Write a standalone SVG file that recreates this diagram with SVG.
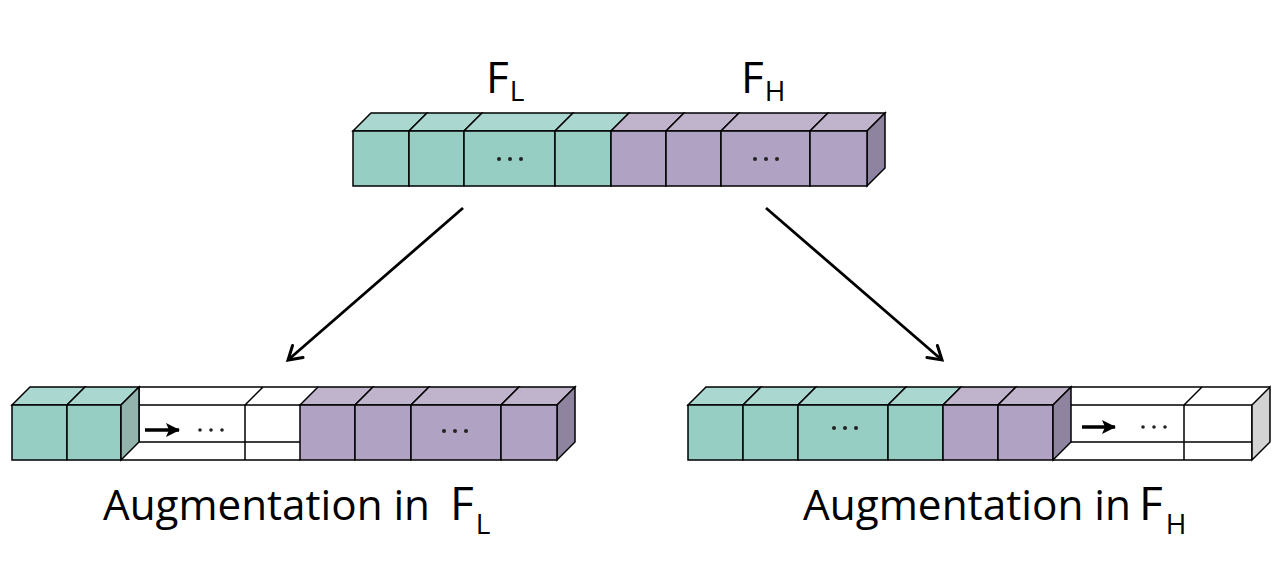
<svg xmlns="http://www.w3.org/2000/svg" width="1280" height="569" viewBox="0 0 1280 569">
<style>
.e{stroke:#000;stroke-width:1.5;stroke-linejoin:miter}
.tf{fill:#96cec4}.tt{fill:#aad8d0}.ts{fill:#93b3ad}
.pf{fill:#b0a2c3}.pt{fill:#bfb4cc}.ps{fill:#8e84a0}
.w{fill:#fff}.gs{fill:#d3d3d3}
.ln{fill:none;stroke:#000;stroke-width:1.5}
.dot{fill:#222}
.lbl{font-family:"Open Sans","DejaVu Sans",sans-serif;fill:#000}
.conn{fill:none;stroke:#000;stroke-width:2.8}
</style>
<defs>
<marker id="open" markerWidth="20" markerHeight="20" refX="15" refY="10" orient="auto" markerUnits="userSpaceOnUse">
<path d="M2,2 L15,10 L2,18" fill="none" stroke="#000" stroke-width="3" stroke-linecap="round"/>
</marker>
<marker id="solid" markerWidth="16" markerHeight="16" refX="14" refY="8" orient="auto" markerUnits="userSpaceOnUse">
<path d="M1,1 L15,8 L1,15 L4,8 Z" fill="#000"/>
</marker>
</defs>

<g id="labels-top">
<text class="lbl" x="486" y="93" font-size="44">F<tspan font-size="28" dx="1" dy="8">L</tspan></text>
<text class="lbl" x="741" y="93" font-size="44">F<tspan font-size="28" dx="1" dy="8">H</tspan></text>
</g>

<g id="top-bar">
<polygon class="e tt" points="353,131 371,113 427,113 409,131"/>
<polygon class="e tt" points="409,131 427,113 482,113 464,131"/>
<polygon class="e tt" points="464,131 482,113 573,113 555,131"/>
<polygon class="e tt" points="555,131 573,113 629,113 611,131"/>
<polygon class="e pt" points="611,131 629,113 684,113 666,131"/>
<polygon class="e pt" points="666,131 684,113 739,113 721,131"/>
<polygon class="e pt" points="721,131 739,113 828,113 810,131"/>
<polygon class="e pt" points="810,131 828,113 885,113 867,131"/>
<polygon class="e ps" points="867,131 885,113 885,168 867,186"/>
<rect class="e tf" x="353" y="131" width="56" height="55"/>
<rect class="e tf" x="409" y="131" width="55" height="55"/>
<rect class="e tf" x="464" y="131" width="91" height="55"/>
<rect class="e tf" x="555" y="131" width="56" height="55"/>
<rect class="e pf" x="611" y="131" width="55" height="55"/>
<rect class="e pf" x="666" y="131" width="55" height="55"/>
<rect class="e pf" x="721" y="131" width="89" height="55"/>
<rect class="e pf" x="810" y="131" width="57" height="55"/>
<circle class="dot" cx="499" cy="159" r="2"/><circle class="dot" cx="510" cy="159" r="2"/><circle class="dot" cx="521" cy="159" r="2"/>
<circle class="dot" cx="755" cy="159" r="2"/><circle class="dot" cx="766" cy="159" r="2"/><circle class="dot" cx="777" cy="159" r="2"/>
</g>

<g id="connectors">
<line class="conn" x1="463" y1="208" x2="288" y2="360" marker-end="url(#open)"/>
<line class="conn" x1="766" y1="208" x2="942" y2="360" marker-end="url(#open)"/>
</g>

<g id="bar-left">
<polygon class="e tt" points="12,405 30,387 85,387 67,405"/>
<polygon class="e tt" points="67,405 85,387 139,387 121,405"/>
<rect class="e tf" x="12" y="405" width="55" height="55"/>
<rect class="e tf" x="67" y="405" width="54" height="55"/>
<rect class="w" x="139" y="387" width="161" height="73"/>
<path class="ln" d="M139,387 H318 M139,405 H300 M139,442 H300 M121,460 H300 M245,405 V460 M245,405 L263,387 M139,387 V442"/>
<polygon class="e ts" points="121,405 139,387 139,442 121,460"/>
<polygon class="e pt" points="300,405 318,387 373,387 355,405"/>
<polygon class="e pt" points="355,405 373,387 429,387 411,405"/>
<polygon class="e pt" points="411,405 429,387 519,387 501,405"/>
<polygon class="e pt" points="501,405 519,387 575,387 557,405"/>
<polygon class="e ps" points="557,405 575,387 575,442 557,460"/>
<rect class="e pf" x="300" y="405" width="55" height="55"/>
<rect class="e pf" x="355" y="405" width="56" height="55"/>
<rect class="e pf" x="411" y="405" width="90" height="55"/>
<rect class="e pf" x="501" y="405" width="56" height="55"/>
<line x1="145" y1="430" x2="179" y2="430" stroke="#000" stroke-width="3.5" marker-end="url(#solid)"/>
<circle class="dot" cx="200" cy="430" r="1.8"/><circle class="dot" cx="211" cy="430" r="1.8"/><circle class="dot" cx="222" cy="430" r="1.8"/>
<circle class="dot" cx="444" cy="431" r="2"/><circle class="dot" cx="455" cy="431" r="2"/><circle class="dot" cx="466" cy="431" r="2"/>
</g>

<g id="bar-right">
<polygon class="e tt" points="688,405 706,387 761,387 743,405"/>
<polygon class="e tt" points="743,405 761,387 816,387 798,405"/>
<polygon class="e tt" points="798,405 816,387 906,387 888,405"/>
<polygon class="e tt" points="888,405 906,387 961,387 943,405"/>
<polygon class="e pt" points="943,405 961,387 1016,387 998,405"/>
<polygon class="e pt" points="998,405 1016,387 1071,387 1053,405"/>
<rect class="e tf" x="688" y="405" width="55" height="55"/>
<rect class="e tf" x="743" y="405" width="55" height="55"/>
<rect class="e tf" x="798" y="405" width="90" height="55"/>
<rect class="e tf" x="888" y="405" width="55" height="55"/>
<rect class="e pf" x="943" y="405" width="55" height="55"/>
<rect class="e pf" x="998" y="405" width="55" height="55"/>
<path class="ln" d="M1071,387 H1270 M1071,405 H1252 M1071,442 H1252 M1053,460 H1252 M1184,405 V460 M1184,405 L1202,387 M1252,405 V460"/>
<polygon class="e ps" points="1053,405 1071,387 1071,442 1053,460"/>
<polygon class="e gs" points="1252,405 1270,387 1270,442 1252,460"/>
<line x1="1082" y1="427" x2="1115" y2="427" stroke="#000" stroke-width="3.5" marker-end="url(#solid)"/>
<circle class="dot" cx="1143" cy="427" r="1.8"/><circle class="dot" cx="1154" cy="427" r="1.8"/><circle class="dot" cx="1165" cy="427" r="1.8"/>
<circle class="dot" cx="834" cy="428" r="2"/><circle class="dot" cx="845" cy="428" r="2"/><circle class="dot" cx="856" cy="428" r="2"/>
</g>

<g id="labels-bottom">
<text class="lbl" x="103" y="520" font-size="42" textLength="327" lengthAdjust="spacingAndGlyphs">Augmentation in</text>
<text class="lbl" x="450" y="520" font-size="46">F<tspan font-size="28" dx="2" dy="14">L</tspan></text>
<text class="lbl" x="803" y="520" font-size="42" textLength="328" lengthAdjust="spacingAndGlyphs">Augmentation in</text>
<text class="lbl" x="1139" y="520" font-size="46">F<tspan font-size="28" dx="3" dy="14">H</tspan></text>
</g>
</svg>
